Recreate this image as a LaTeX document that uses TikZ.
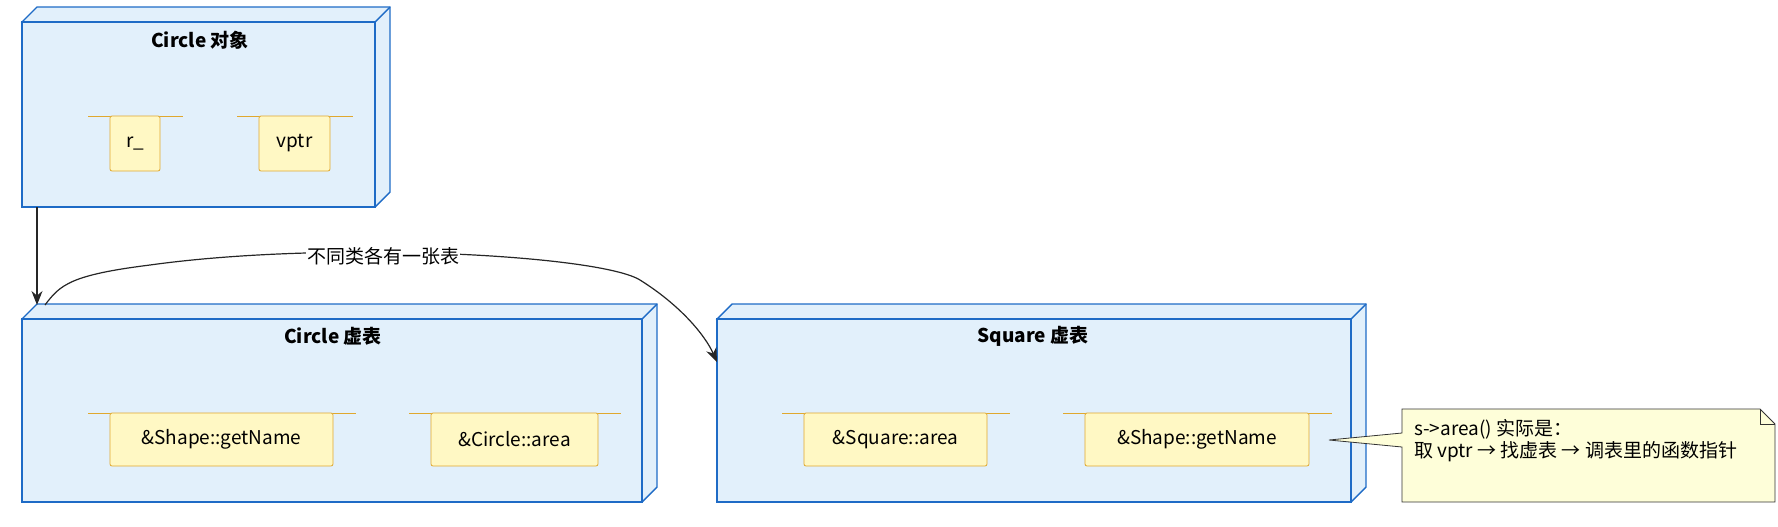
\documentclass[tikz,border=0pt]{standalone}
\usepackage{fontspec}
\setmainfont{Noto Sans CJK SC}
\usetikzlibrary{arrows.meta,positioning}
\definecolor{boxfill}{HTML}{E2F0FB}
\definecolor{boxline}{HTML}{1E6BC6}
\definecolor{portfill}{HTML}{FFF8C4}
\definecolor{portline}{HTML}{E0A82E}
\definecolor{notefill}{HTML}{FEFED9}
\begin{document}
\begin{tikzpicture}[x=0.5pt, y=-0.5pt, font=\fontsize{9.5}{11}\selectfont,
   box_style/.style={draw=boxline, fill=boxfill, line width=0.7pt},
   port_style/.style={draw=portline, fill=portfill, line width=0.4pt, rounded corners=1pt},
   stub_style/.style={draw=portline, line width=0.4pt},
   title_style/.style={font=\fontsize{9.5}{11}\selectfont\bfseries},
   edge_style/.style={draw=black!85, line width=0.6pt, -{Stealth[length=7pt,width=5.5pt]}}]
  \useasboundingbox (0,0) rectangle (1778,526);
  % 3D boxes
  \foreach \name/\xa/\ya/\xb/\yb in {obj/22/22/375/207, ctab/22/319/642/502, stab/717/319/1351/502} {
    \draw [box_style] (\xa,\ya) -- (\xa+15,\ya-15) -- (\xb+15,\ya-15) -- (\xb+15,\yb-15) -- (\xb,\yb) -- cycle;
    \draw [box_style] (\xa,\ya) rectangle (\xb,\yb);
    \draw [draw=boxline, line width=0.7pt] (\xb,\ya) -- (\xb+15,\ya-15);
    \coordinate (\name) at (\xa,\ya);
  }
  \node [title_style] (tobj) at (200,40) {Circle 对象};
  \node [title_style] (tctab) at (333,336) {Circle 虚表};
  \node [title_style] (tstab) at (1033,336) {Square 虚表};
  % ports
  \foreach \name/\xa/\ya/\xb/\yb/\txt in {pr/110/116/160/171/r\_, pv/259/116/330/171/vptr,
      pg1/110/413/333/466/\&Shape::getName, pa1/431/413/598/466/\&Circle::area,
      pa2/804/413/987/466/\&Square::area, pg2/1085/413/1309/466/\&Shape::getName} {
    \draw [port_style] (\xa,\ya) rectangle (\xb,\yb);
    \draw [stub_style] (\xa-22,\ya) -- (\xa,\ya) (\xb,\ya) -- (\xb+23,\ya);
    \node (\name) at ({(\xa+\xb)/2},{(\ya+\yb)/2}) {\txt};
  }
  % note
  \draw [draw=black!80, fill=notefill, line width=0.4pt]
    (1402,409) -- (1760,409) -- (1775,424) -- (1775,502) -- (1402,502) -- (1402,447)
    -- (1329,440) -- (1402,433) -- cycle;
  \draw [draw=black!80, line width=0.4pt] (1760,409) -- (1760,424) -- (1775,424);
  \node [anchor=west, align=left] (note) at (1407,441)
    {s->area() 实际是：\\取 vptr → 找虚表 → 调表里的函数指针};
  % connectors
  \coordinate (a1) at (37,207);
  \coordinate (a2) at (37,305);
  \coordinate (b1) at (45,305);
  \coordinate (b2) at (717,362);
  \draw [edge_style] (a1) -- (a2);
  \draw [edge_style] (b1) .. controls (60,285) and (70,275) .. (150,265)
    .. controls (330,240) and (600,255) .. (640,280) .. controls (680,305) and (705,335) .. (b2);
  \node [fill=white, inner sep=0.5pt] (lbl) at (383,256) {不同类各有一张表};
\end{tikzpicture}
\end{document}
